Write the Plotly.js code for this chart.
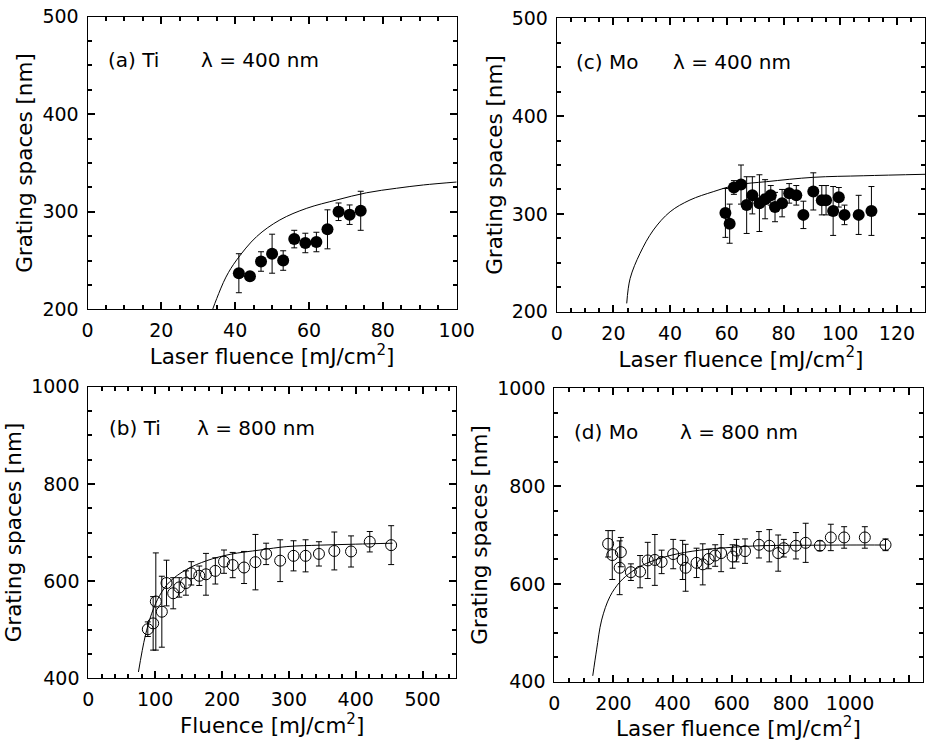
<!DOCTYPE html>
<html>
<head>
<meta charset="utf-8">
<script src="https://cdn.plot.ly/plotly-3.0.1.min.js"></script>
<style>html,body{margin:0;padding:0;background:#fff;}#chart{width:932px;height:741px;}</style>
</head>
<body>
<div id="chart"></div>
<script>
// ---- (a) Ti, 400 nm ----
const aX   = [41, 44, 47, 50, 53, 56, 59, 62, 65, 68, 71, 74];
const aY   = [237, 234, 249, 257, 250, 272, 268, 269, 282, 300, 297, 301];
const aErr = [20, 3, 10, 20, 10, 9, 10, 10, 20, 9, 10, 20];
const aFitX = [33.9, 35, 37.5, 40.4, 45.8, 52.1, 59.4, 67.5, 75.6, 83.7, 91, 100];
const aFitY = [200, 211, 233, 250.6, 274.5, 291.6, 303.6, 312.1, 319.5, 324.1, 327.5, 330.5];

// ---- (c) Mo, 400 nm ----
const cX   = [59.5, 61, 62.5, 65, 67, 69, 71.5, 73.5, 75.5, 77, 79.5, 82, 84.5, 87, 90.5, 93.5, 95, 97.5, 99.5, 101.5, 106.5, 111];
const cY   = [301, 290, 327, 330, 309, 319, 311, 315, 319, 307, 311, 321, 319, 299, 323, 314, 314, 303, 317, 299, 299, 303];
const cErr = [25, 20, 7, 20, 29, 19, 29, 20, 10, 15, 14, 10, 10, 14, 19, 15, 15, 25, 10, 10, 20, 25];
const cFitX = [24.7, 25.9, 29.4, 34.1, 40, 47, 55.2, 63.5, 74.1, 90.5, 108.1, 130];
const cFitY = [208.5, 234, 259.7, 283.5, 302.2, 314.2, 322.7, 329.6, 333, 337.4, 339, 340.5];

// ---- (b) Ti, 800 nm ----
const bX   = [89, 97, 101, 110, 117, 127, 136, 146, 154, 166, 176, 190, 203, 216, 233, 250, 266, 287, 307, 325, 345, 368, 393, 421, 453];
const bY   = [501, 513, 558, 537, 596, 575, 587, 596, 616, 611, 614, 621, 640, 633, 628, 639, 656, 642, 652, 652, 656, 662, 661, 681, 674];
const bErr = [15, 55, 100, 73, 47, 32, 20, 25, 24, 20, 43, 27, 24, 26, 33, 57, 22, 43, 31, 33, 25, 39, 32, 21, 40];
const bFitX = [75, 85, 95, 107, 122, 147, 177, 212, 257, 297, 347, 400, 455];
const bFitY = [413, 486, 534, 571, 599, 624, 642, 655, 664, 671, 674, 676, 678];

// ---- (d) Mo, 800 nm ----
const dX   = [182, 196, 221, 225, 259, 290, 316, 340, 363, 402, 434, 444, 481, 502, 522, 544, 564, 603, 616, 645, 692, 727, 757, 776, 817, 850, 898, 935, 980, 1050, 1120];
const dY   = [682, 659, 633, 665, 624, 625, 648, 649, 645, 661, 649, 633, 643, 640, 651, 658, 663, 656, 668, 667, 680, 678, 663, 673, 678, 684, 678, 695, 695, 695, 680];
const dErr = [27, 50, 55, 30, 17, 33, 37, 52, 24, 30, 40, 48, 30, 42, 20, 22, 38, 24, 23, 25, 27, 33, 37, 18, 27, 40, 10, 27, 22, 22, 12];
const dFitX = [130, 143, 160, 188, 222, 262, 312, 391, 492, 605, 695, 850, 1000, 1120];
const dFitY = [412, 465, 526, 574, 604, 625, 642, 658, 669, 675, 678, 679, 679.5, 679.5];

// ---- labels ----
const yTitle = 'Grating spaces [nm]';
const xTitleLaser = 'Laser fluence [mJ/cm<sup>2</sup>]';
const xTitleFluence = 'Fluence [mJ/cm<sup>2</sup>]';
const panelLabels = ['(a) Ti', '(c) Mo', '(b) Ti', '(d) Mo'];
const lambdaLabels = ['\u03bb = 400 nm', '\u03bb = 400 nm', '\u03bb = 800 nm', '\u03bb = 800 nm'];

const W = 932, H = 741;
const FONT = 'DejaVu Sans, sans-serif';
const px = v => v / W;
const py = v => 1 - v / H;

function errBar(arr) {
  return {type: 'data', array: arr, visible: true, color: '#000', thickness: 1, width: 3};
}
function fitTrace(x, y, xa, ya) {
  return {x, y, xaxis: xa, yaxis: ya, mode: 'lines', hoverinfo: 'skip',
          line: {color: '#000', width: 1, shape: 'spline'}, showlegend: false};
}
function dataTrace(x, y, e, xa, ya, open) {
  return {x, y, xaxis: xa, yaxis: ya, mode: 'markers', showlegend: false,
          error_y: errBar(e),
          marker: open ? {symbol: 'circle-open', size: 11, color: '#000', line: {width: 1, color: '#000'}}
                       : {symbol: 'circle', size: 12, color: '#000'}};
}

const traces = [
  fitTrace(aFitX, aFitY, 'x', 'y'),   dataTrace(aX, aY, aErr, 'x', 'y', false),
  fitTrace(cFitX, cFitY, 'x2', 'y2'), dataTrace(cX, cY, cErr, 'x2', 'y2', false),
  fitTrace(bFitX, bFitY, 'x3', 'y3'), dataTrace(bX, bY, bErr, 'x3', 'y3', true),
  fitTrace(dFitX, dFitY, 'x4', 'y4'), dataTrace(dX, dY, dErr, 'x4', 'y4', true)
];

function axis(domain, range, dtick, minor, anchor, title, standoff) {
  return {
    domain, range, anchor, tick0: 0, dtick,
    ticks: 'inside', ticklen: 7, tickwidth: 1.5, tickcolor: '#000',
    minor: {dtick: minor, ticks: 'inside', ticklen: 4, tickwidth: 1.5, tickcolor: '#000'},
    mirror: 'allticks', showline: true, linecolor: '#000', linewidth: 1,
    showgrid: false, zeroline: false,
    ticklabelstandoff: 4,
    tickfont: {family: FONT, size: 19, color: '#000'},
    title: {text: title, font: {family: FONT, size: 21.5, color: '#000'}, standoff: standoff}
  };
}

const layout = {
  width: W, height: H,
  margin: {l: 0, r: 0, t: 0, b: 0},
  paper_bgcolor: '#fff', plot_bgcolor: '#fff',
  showlegend: false,
  xaxis:  axis([px(87.5), px(456.7)], [0, 100], 20, 5, 'y', xTitleLaser, 0),
  yaxis:  axis([py(309.3), py(16.7)], [200, 500], 100, 25, 'x', yTitle, 3),
  xaxis2: axis([px(556.7), px(925.3)], [0, 130], 20, 5, 'y2', xTitleLaser, 0),
  yaxis2: axis([py(311.7), py(18.3)], [200, 500], 100, 25, 'x2', yTitle, 3),
  xaxis3: axis([px(88.3), px(456)], [0, 550], 100, 20, 'y3', xTitleFluence, 0),
  yaxis3: axis([py(678.3), py(386.7)], [400, 1000], 200, 50, 'x3', yTitle, 3),
  xaxis4: axis([px(554.3), px(922.5)], [0, 1245], 200, 50, 'y4', xTitleLaser, 0),
  yaxis4: axis([py(681.7), py(388.3)], [400, 1000], 200, 50, 'x4', yTitle, 3),
  annotations: []
};

const labelPos = [
  [106, 199.3, 60], [574.3, 671, 61.7], [106.7, 195, 428.3], [572, 677.7, 431.7]
];
labelPos.forEach((p, i) => {
  layout.annotations.push({xref: 'paper', yref: 'paper', x: px(p[0]), y: py(p[2]), xanchor: 'left', yanchor: 'middle',
    showarrow: false, text: panelLabels[i], font: {family: FONT, size: 20, color: '#000'}});
  layout.annotations.push({xref: 'paper', yref: 'paper', x: px(p[1]), y: py(p[2]), xanchor: 'left', yanchor: 'middle',
    showarrow: false, text: lambdaLabels[i], font: {family: FONT, size: 20, color: '#000'}});
});

Plotly.newPlot('chart', traces, layout, {displayModeBar: false});
</script>
</body>
</html>
